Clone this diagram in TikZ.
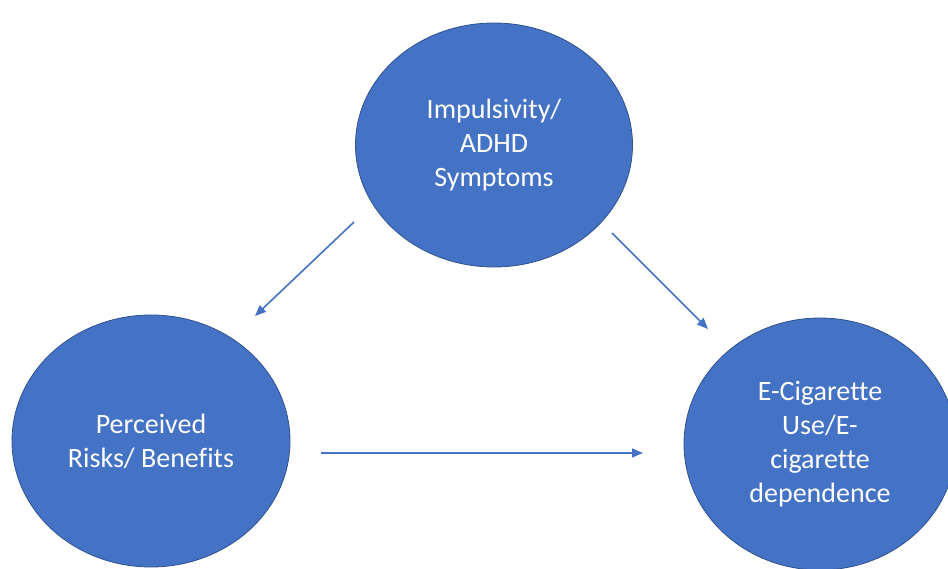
\documentclass[tikz,border=0pt]{standalone}
\usepackage{fontspec}
\setmainfont[Ligatures={NoCommon}]{Carlito}
\usetikzlibrary{shapes.geometric,arrows.meta}
\definecolor{obl}{HTML}{4472C4}
\definecolor{obd}{HTML}{2F528F}
\tikzset{
  bubble/.style={ellipse, draw=obd, line width=0.8pt, fill=obl, text=white,
    inner sep=0pt, align=center,
    font=\fontsize{28}{34}\selectfont},
  link/.style={draw=obl, line width=1.6pt, -{Triangle[length=11pt,width=9pt]}}
}
\begin{document}
\begin{tikzpicture}[x=1pt,y=-1pt]
\useasboundingbox (0,0) rectangle (948,569);
\node[bubble, minimum width=277pt, minimum height=244pt] (imp) at (494,145) {Impulsivity/\\ADHD\\Symptoms};
\node[bubble, minimum width=278pt, minimum height=252pt] (per) at (151,441) {Perceived\\Risks/ Benefits};
\node[bubble, minimum width=272pt, minimum height=252pt] (ecig) at (820,444) {E-Cigarette\\Use/E-\\cigarette\\dependence};
\coordinate (a1s) at (354,222);
\coordinate (a1e) at (255,316);
\coordinate (a2s) at (612,233);
\coordinate (a2e) at (708,329);
\coordinate (a3s) at (321,453);
\coordinate (a3e) at (643,453);
\draw[link] (a1s) -- (a1e);
\draw[link] (a2s) -- (a2e);
\draw[link] (a3s) -- (a3e);
\end{tikzpicture}
\end{document}
